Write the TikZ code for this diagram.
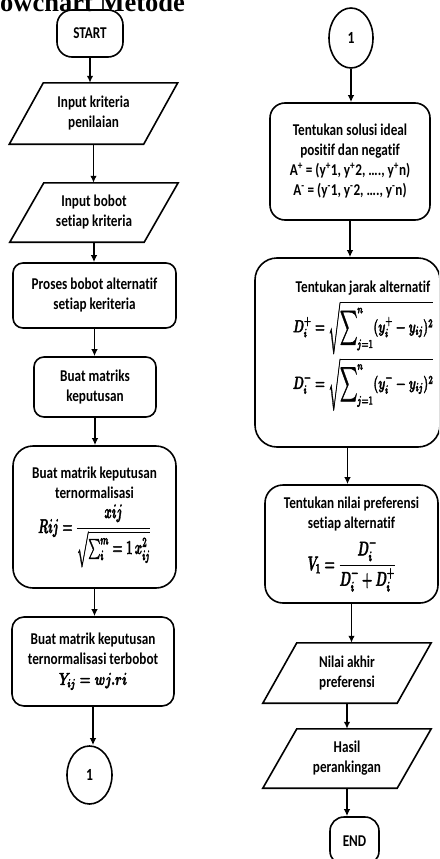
\documentclass[tikz,border=0pt]{standalone}
\usepackage{amsmath}
\usepackage{fontspec}
\setmainfont[FakeStretch=0.8,RawFeature=-liga]{Carlito}
\newfontfamily\titlefont{Liberation Serif}
\usetikzlibrary{shapes.geometric,arrows.meta,calc}
% horizontally condensed bold math, slightly emboldened
\newcommand\mx[3][1]{\scalebox{#2}[#1]{\special{pdf:literal direct 2 Tr 0.45 w}\boldmath$#3$\special{pdf:literal direct 0 Tr}}}
\newcommand\bigsum{\mathop{\vcenter{\hbox{\scalebox{1.05}[1.4]{\boldmath$\displaystyle\sum$}}}}\nolimits}
\begin{document}
\begin{tikzpicture}[x=1pt,y=-1pt,
  txt/.style={align=center, inner sep=0pt, font=\bfseries\boldmath\fontsize{16.5}{20}\selectfont},
  box/.style={txt, draw, line width=1.6pt},
  rbox/.style={box, rounded corners=#1},
  term/.style={box, rounded corners=#1},
  circ/.style={box, ellipse, font=\bfseries\fontsize{17}{20}\selectfont},
  para/.style={txt, minimum width=168pt},
  pline/.style={line width=1.6pt, line join=miter},
  arr/.style={line width=1.4pt, -{Latex[length=7pt,width=6.5pt]}}]
\useasboundingbox (0,0) rectangle (439,859);
\clip (0,0) rectangle (439,859);

% title (partly cut off at the top)
\node[anchor=base west, inner sep=0pt, font=\titlefont\bfseries\fontsize{26.5}{30}\selectfont] (title) at (-23.6,12) {Flowchart Metode};

% ---------- left column ----------
\node[term=15pt, minimum width=66pt, minimum height=47pt] (start) at (90,33.5) {START};
\node[para, minimum height=61pt] (p1) at (93.5,113.5) {Input kriteria\\penilaian};
\node[para, minimum height=59pt] (p2) at (94,212.5) {Input bobot\\setiap kriteria};
\node[rbox=10pt, minimum width=163pt, minimum height=65pt] (proses) at (94.5,295.5) {Proses bobot alternatif\\setiap keriteria};
\node[rbox=10pt, minimum width=122pt, minimum height=60pt] (buat) at (95,387) {Buat matriks\\keputusan};
\node[rbox=20pt, minimum width=163pt, minimum height=142pt] (norm) at (94.5,517) {Buat matrik keputusan\\ternormalisasi\\[5pt]
  \mx[1.15]{0.66}{Rij = \dfrac{xij}{\sqrt{\textstyle\sum_i^m = 1\, x_{ij}^2}}}};
\node[rbox=12pt, minimum width=162pt, minimum height=89pt] (terbobot) at (93,661.5) {Buat matrik keputusan\\ternormalisasi terbobot\\\mx{0.72}{Y_{ij} = wj.ri}};
\node[circ, minimum width=45pt, minimum height=58pt] (c1) at (89.5,775) {1};

% ---------- right column ----------
\node[circ, minimum width=44pt, minimum height=60pt] (c2) at (351,38) {1};
\node[rbox=15pt, minimum width=160pt, minimum height=117pt] (solusi) at (350,161.5) {Tentukan solusi ideal\\positif dan negatif\\
  A\textsuperscript{+} = (y\textsuperscript{+}1, y\textsuperscript{+}2, …., y\textsuperscript{+}n)\\
  A\textsuperscript{-} = (y\textsuperscript{-}1, y\textsuperscript{-}2, …., y\textsuperscript{-}n)};
\node[rbox=22pt, minimum width=185pt, minimum height=189pt] (jarak) at (347.5,352.5) {};
\node[txt] (jarakT) at (363,346) {Tentukan jarak alternatif\\[5pt]
  \mx{0.66}{D_i^+ = \sqrt{\bigsum_{j=1}^{n}(y_i^+ - y_{ij})^2}}\\[3pt]
  \mx{0.66}{D_i^- = \sqrt{\bigsum_{j=1}^{n}(y_i^- - y_{ij})^2}}};
\node[rbox=18pt, minimum width=173pt, minimum height=118pt] (pref) at (351.5,544) {Tentukan nilai preferensi\\setiap alternatif\\[6pt]
  \mx[1.15]{0.69}{V_1 = \dfrac{D_i^-}{D_i^- + D_i^+}}};
\node[para, minimum height=60pt] (p3) at (347,673) {Nilai akhir\\preferensi};
\node[para, minimum height=59pt] (p4) at (347,758.5) {Hasil\\perankingan};
\node[term=14pt, minimum width=49pt, minimum height=48pt] (end) at (354.5,841) {END};

% parallelograms
\foreach \p in {p1,p2,p3,p4}{
  \draw[pline] (\p.south west) -- ($(\p.north west)+(34,0)$) -- (\p.north east) -- ($(\p.south east)+(-34,0)$) -- cycle;
}

% connectors
\draw[arr] (start.south) -- (start.south |- p1.north);
\draw[arr] (p1.south) -- (p1.south |- p2.north);
\draw[arr] (p2.south) -- (p2.south |- proses.north);
\draw[arr] (proses.south) -- (proses.south |- buat.north);
\draw[arr] (buat.south) -- (buat.south |- norm.north);
\draw[arr] (norm.south) -- (norm.south |- terbobot.north);
\draw[arr] (terbobot.south) -- (terbobot.south |- c1.north);
\draw[arr] (c2.south) -- (c2.south |- solusi.north);
\draw[arr] (solusi.south) -- (solusi.south |- jarak.north);
\draw[arr] (jarak.south) -- (jarak.south |- pref.north);
\draw[arr] (pref.south) -- (pref.south |- p3.north);
\draw[arr] (p3.south) -- (p3.south |- p4.north);
\draw[arr] (p4.south) -- (p4.south |- end.north);
\end{tikzpicture}
\end{document}
